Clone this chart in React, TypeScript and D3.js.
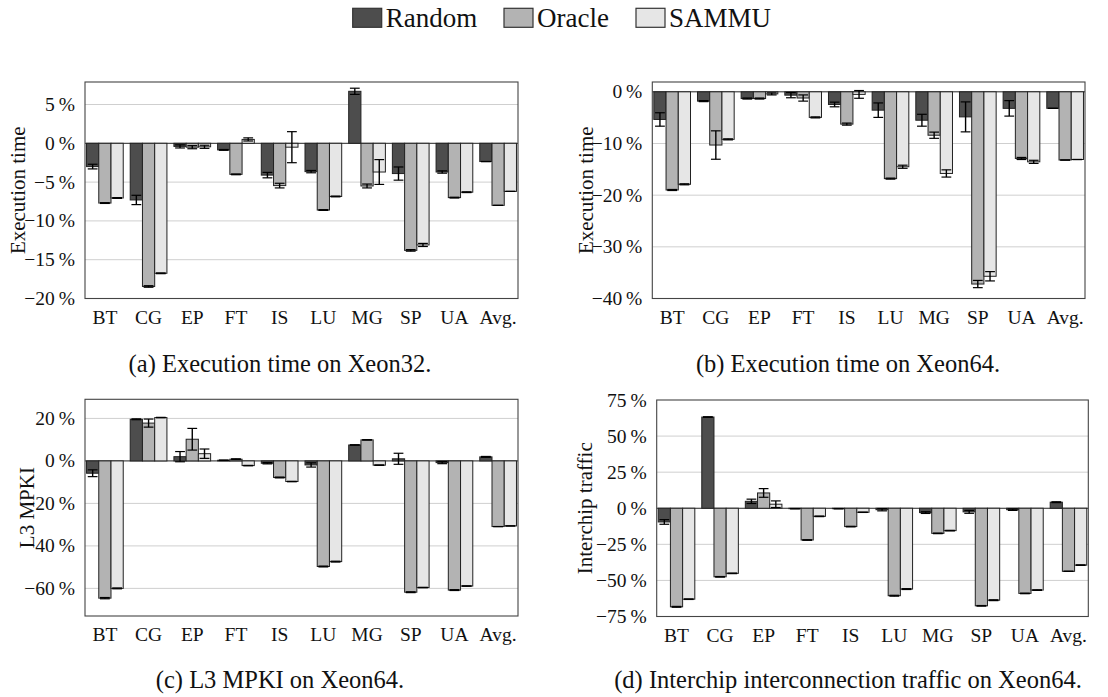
import React from "react";
import * as d3 from "d3";

const CATEGORIES = ["BT", "CG", "EP", "FT", "IS", "LU", "MG", "SP", "UA", "Avg."];
const SERIES = ["Random", "Oracle", "SAMMU"];
const COLORS = ["#4d4d4d", "#b3b3b3", "#e6e6e6"];

// (a) Execution time on Xeon32
const execX32Random = [-3.0, -7.3, -0.4, -0.85, -4.1, -3.65, 6.7, -3.9, -3.7, -2.35];
const execX32Oracle = [-7.7, -18.45, -0.5, -4.0, -5.45, -8.6, -5.5, -13.8, -7.0, -8.0];
const execX32Sammu = [-7.05, -16.75, -0.45, 0.5, -0.5, -6.85, -3.7, -13.1, -6.3, -6.2];
const execX32RandomErr = [0.3, 0.6, 0.2, 0.05, 0.35, 0.15, 0.4, 0.85, 0.15, 0];
const execX32OracleErr = [0.05, 0.1, 0.2, 0.05, 0.3, 0.05, 0.25, 0.1, 0.05, 0];
const execX32SammuErr = [0.05, 0.05, 0.2, 0.2, 2.0, 0.05, 1.6, 0.2, 0.05, 0];

// (b) Execution time on Xeon64
const execX64Random = [-5.35, -1.8, -1.3, -0.65, -2.45, -3.55, -5.5, -4.85, -3.2, -3.2];
const execX64Oracle = [-19.0, -10.3, -1.3, -1.2, -6.25, -16.8, -8.4, -37.2, -12.9, -13.2];
const execX64Sammu = [-17.9, -9.2, -0.4, -4.95, -0.5, -14.5, -15.8, -35.7, -13.55, -13.1];
const execX64RandomErr = [1.3, 0.1, 0.1, 0.5, 0.45, 1.4, 1.15, 2.9, 1.5, 0];
const execX64OracleErr = [0.1, 2.75, 0.1, 0.6, 0.2, 0.1, 0.6, 0.7, 0.2, 0];
const execX64SammuErr = [0.1, 0.1, 0.2, 0.1, 0.75, 0.3, 0.7, 0.9, 0.3, 0];

// (c) L3 MPKI on Xeon64
const mpkiRandom = [-5.8, 19.6, 2.0, 0.3, -1.1, -1.9, 7.5, 1.0, -0.8, 1.9];
const mpkiOracle = [-64.6, 17.8, 10.2, 0.8, -7.8, -49.7, 9.9, -61.8, -60.8, -30.9];
const mpkiSammu = [-60.0, 20.4, 3.4, -2.2, -9.7, -47.4, -2.0, -59.6, -58.9, -30.6];
const mpkiRandomErr = [1.6, 0.2, 2.4, 0.1, 0.3, 1.0, 0.1, 2.6, 0.5, 0.2];
const mpkiOracleErr = [0.3, 1.9, 5.1, 0.2, 0.2, 0.2, 0.1, 0.2, 0.2, 0];
const mpkiSammuErr = [0.2, 0.1, 2.2, 0.1, 0.1, 0.2, 0.1, 0.1, 0.1, 0];

// (d) Interchip interconnection traffic on Xeon64
const trafficRandom = [-9.5, 63.2, 4.8, -0.3, -0.3, -1.0, -3.0, -2.5, -1.0, 4.2];
const trafficOracle = [-68.3, -47.5, 10.6, -22.0, -12.7, -60.6, -17.4, -67.6, -59.0, -43.7];
const trafficSammu = [-63.0, -45.1, 2.8, -5.6, -2.8, -56.0, -15.5, -63.7, -56.7, -39.4];
const trafficRandomErr = [1.6, 0.2, 1.5, 0.1, 0.1, 0.8, 0.6, 1.0, 0.5, 0.3];
const trafficOracleErr = [0.3, 0.2, 3.0, 0.2, 0.2, 0.3, 0.2, 0.2, 0.2, 0];
const trafficSammuErr = [0.2, 0.2, 2.3, 0.2, 0.1, 0.3, 0.2, 0.3, 0.2, 0.2];

const ticksA = [5, 0, -5, -10, -15, -20];
const ticksB = [0, -10, -20, -30, -40];
const ticksC = [20, 0, -20, -40, -60];
const ticksD = [75, 50, 25, 0, -25, -50, -75];

const FONT = "'Liberation Serif', 'Times New Roman', serif";

type PanelProps = {
  left: number;
  top: number;
  width: number;
  height: number;
  domain: [number, number];
  ticks: number[];
  values: number[][];
  errors: number[][];
  ylabel: string;
  ylabelX: number;
  caption: string;
  captionX: number;
  captionY: number;
};

function fmt(v: number) {
  const s = Math.abs(v).toString();
  return (v < 0 ? "\u2212" : "") + s + "\u2009%";
}

function Panel(p: PanelProps) {
  const x = d3
    .scaleLinear()
    .domain([-0.455, CATEGORIES.length - 1 + 0.455])
    .range([p.left, p.left + p.width]);
  const y = d3.scaleLinear().domain(p.domain).range([p.top + p.height, p.top]);
  const unit = x(1) - x(0);
  const bw = unit * 0.28;
  const capW = bw * 0.8;
  const bottom = p.top + p.height;
  return (
    <g>
      {p.ticks
        .filter((t) => t !== 0 && y(t) > p.top + 1 && y(t) < bottom - 1)
        .map((t) => (
          <line key={"g" + t} x1={p.left} x2={p.left + p.width} y1={y(t)} y2={y(t)} stroke="#cfcfcf" strokeWidth={1} />
        ))}
      <line x1={p.left} x2={p.left + p.width} y1={y(0)} y2={y(0)} stroke="#222" strokeWidth={1} />
      {CATEGORIES.map((c, i) =>
        SERIES.map((s, k) => {
          const v = p.values[k][i];
          const cx = x(i) + (k - 1) * bw;
          const y0 = y(0);
          const y1 = y(v);
          const e = p.errors[k][i];
          return (
            <g key={c + s}>
              <rect
                x={cx - bw / 2}
                y={Math.min(y0, y1)}
                width={bw}
                height={Math.abs(y1 - y0)}
                fill={COLORS[k]}
                stroke="#222"
                strokeWidth={1}
              />
              <line x1={cx} x2={cx} y1={y(v - e)} y2={y(v + e)} stroke="#000" strokeWidth={1.4} />
              <line x1={cx - capW / 2} x2={cx + capW / 2} y1={y(v - e)} y2={y(v - e)} stroke="#000" strokeWidth={1.2} />
              <line x1={cx - capW / 2} x2={cx + capW / 2} y1={y(v + e)} y2={y(v + e)} stroke="#000" strokeWidth={1.2} />
            </g>
          );
        })
      )}
      <rect x={p.left} y={p.top} width={p.width} height={p.height} fill="none" stroke="#444" strokeWidth={1.1} />
      {p.ticks.map((t) => (
        <text
          key={"t" + t}
          x={p.left - 10}
          y={y(t)}
          textAnchor="end"
          dominantBaseline="central"
          fontFamily={FONT}
          fontSize={19.5}
          fill="#111"
        >
          {fmt(t)}
        </text>
      ))}
      {CATEGORIES.map((c, i) => (
        <text key={"x" + c} x={x(i)} y={bottom + 25} textAnchor="middle" fontFamily={FONT} fontSize={19.5} fill="#111">
          {c}
        </text>
      ))}
      <text
        transform={`translate(${p.ylabelX},${p.top + p.height / 2}) rotate(-90)`}
        textAnchor="middle"
        dominantBaseline="central"
        fontFamily={FONT}
        fontSize={21}
        fill="#111"
      >
        {p.ylabel}
      </text>
      <text x={p.captionX} y={p.captionY} textAnchor="middle" fontFamily={FONT} fontSize={24.5} fill="#111">
        {p.caption}
      </text>
    </g>
  );
}

export default function App() {
  const legendX = [352.7, 504, 636];
  return (
    <svg width={1108} height={697} style={{ position: "absolute", left: 0, top: 0, background: "#fff" }}>
      <rect x={0} y={0} width={1108} height={697} fill="#fff" />
      {SERIES.map((s, k) => (
        <g key={s}>
          <rect x={legendX[k]} y={8.3} width={29} height={19} fill={COLORS[k]} stroke="#333" strokeWidth={1.2} />
          <text x={legendX[k] + 33} y={27} fontFamily={FONT} fontSize={27} fill="#111">
            {s}
          </text>
        </g>
      ))}
      <Panel
        left={85}
        top={82}
        width={433}
        height={216.5}
        domain={[-20, 7.9]}
        ticks={ticksA}
        values={[execX32Random, execX32Oracle, execX32Sammu]}
        errors={[execX32RandomErr, execX32OracleErr, execX32SammuErr]}
        ylabel="Execution time"
        ylabelX={18}
        caption="(a) Execution time on Xeon32."
        captionX={280}
        captionY={372}
      />
      <Panel
        left={652.3}
        top={82}
        width={432.7}
        height={216.5}
        domain={[-40, 1.9]}
        ticks={ticksB}
        values={[execX64Random, execX64Oracle, execX64Sammu]}
        errors={[execX64RandomErr, execX64OracleErr, execX64SammuErr]}
        ylabel="Execution time"
        ylabelX={586}
        caption="(b) Execution time on Xeon64."
        captionX={848}
        captionY={372}
      />
      <Panel
        left={85}
        top={399.3}
        width={433}
        height={216.7}
        domain={[-73, 29]}
        ticks={ticksC}
        values={[mpkiRandom, mpkiOracle, mpkiSammu]}
        errors={[mpkiRandomErr, mpkiOracleErr, mpkiSammuErr]}
        ylabel="L3 MPKI"
        ylabelX={27}
        caption="(c) L3 MPKI on Xeon64."
        captionX={280}
        captionY={688}
      />
      <Panel
        left={656.7}
        top={400}
        width={431.6}
        height={216.5}
        domain={[-75, 75]}
        ticks={ticksD}
        values={[trafficRandom, trafficOracle, trafficSammu]}
        errors={[trafficRandomErr, trafficOracleErr, trafficSammuErr]}
        ylabel="Interchip traffic"
        ylabelX={585}
        caption="(d) Interchip interconnection traffic on Xeon64."
        captionX={848}
        captionY={688}
      />
    </svg>
  );
}
